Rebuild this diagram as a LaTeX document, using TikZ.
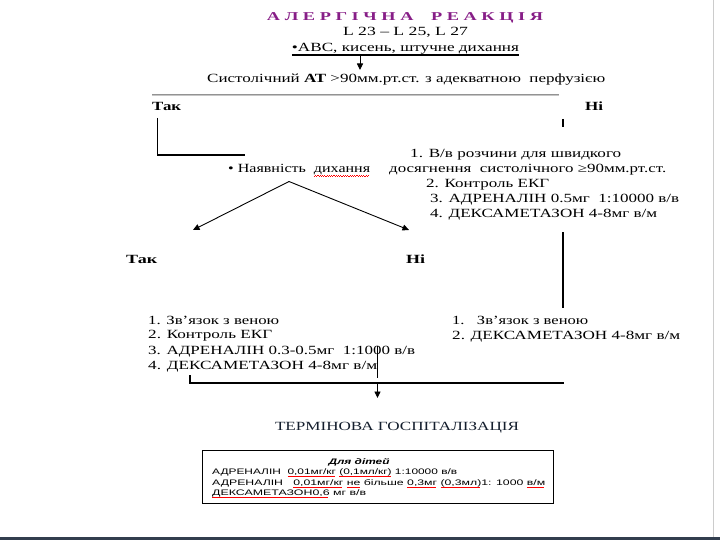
\documentclass[tikz,border=0pt]{standalone}
\usepackage{fontspec}
\usepackage{graphicx}
\setmainfont{Liberation Serif}
\newfontfamily\tms[FakeStretch=1.4]{Liberation Serif}
\newfontfamily\ari[FakeStretch=1.3]{Liberation Sans}
\usetikzlibrary{arrows.meta}
\definecolor{ttl}{RGB}{135,30,135}
\definecolor{dk}{RGB}{20,30,45}
\definecolor{frm}{RGB}{50,62,78}
\newcommand\fw[2]{\resizebox{#1}{\height}{#2}}
\newsavebox\sqbox
\newcommand\sq[1]{\sbox\sqbox{#1}\rlap{\textcolor{red}{\leaders\hbox{\rule[-0.3em]{0.1em}{0.08em}\rule[-0.22em]{0.1em}{0.08em}}\hskip\wd\sqbox}}\usebox\sqbox}
\begin{document}
\begin{tikzpicture}[x=1pt,y=-1pt,
 txt/.style={inner sep=0pt, anchor=base west, font=\tms\fontsize{12.5}{14}\selectfont},
 txtc/.style={txt, anchor=base},
 txtb/.style={txt, font=\tms\bfseries\fontsize{12.5}{14}\selectfont},
 boxt/.style={inner sep=0pt, anchor=base west, font=\ari\fontsize{8}{9}\selectfont},
 ln/.style={line width=0.9pt},
 thk/.style={line width=2.3pt},
 arr/.style={line width=0.9pt, -{Triangle[width=6pt,length=6.5pt]}},
]
\useasboundingbox (0,0) rectangle (720,540);
\fill[white] (0,0) rectangle (720,540);

% header
\node[txtc, font=\tms\bfseries\fontsize{12}{13}\selectfont, text=ttl] (title) at (405,21) {\fw{276pt}{А Л Е Р Г І Ч Н А \quad Р Е А К Ц І Я}};
\node[txtc] (lnum) at (405.5,35.5) {\fw{125pt}{L 23 – L 25, L 27}};
\node[txtc] (abc) at (405.5,51.5) {\fw{227pt}{•АВС, кисень, штучне дихання}};
\draw[line width=1.1pt] ([yshift=-3.5pt]abc.base west) -- ([yshift=-3.5pt]abc.base east);
\node[txt] (sys) at (207,83) {\fw{398pt}{Систолічний \textbf{АТ} >90мм.рт.ст. з адекватною\ \ перфузією}};
\coordinate (a1s) at (360,56.5);
\coordinate (a1e) at (360,70);
\draw[arr] (a1s) -- (a1e);

% gray line
\coordinate (g1) at (152,95);
\coordinate (g2) at (559,95);
\draw[draw=gray!85, double=gray!45, double distance=0.8pt, line width=0.9pt] (g1) -- (g2);

\node[txtb] (tak1) at (152,111) {\fw{29pt}{Так}};
\node[txtb] (ni1) at (585,111) {\fw{18pt}{Ні}};

\coordinate (l1) at (157,118);
\coordinate (l2) at (157,155);
\coordinate (l3) at (245,155);
\draw[ln] (l1) -- (l2);
\draw[line width=2.2pt] (l2) -- (l3);
\coordinate (r1) at (563,119);
\coordinate (r2) at (563,127);
\draw[line width=1.1pt] (r1) -- (r2);

\node[txt] (nay) at (228,173) {\fw{142pt}{\textbullet\ Наявність\ \ \sq{дихання}}};

\node[txt] (p1) at (410,158) {\fw{211pt}{1. В/в розчини для швидкого}};
\node[txt] (p2) at (389,173) {\fw{277pt}{досягнення\ \ систолічного ≥90мм.рт.ст.}};
\node[txt] (p3) at (426,187.5) {\fw{123pt}{2. Контроль ЕКГ}};
\node[txt] (p4) at (430,203) {\fw{249pt}{3. АДРЕНАЛІН 0.5мг\ \ 1:10000 в/в}};
\node[txt] (p5) at (430,218) {\fw{227pt}{4. ДЕКСАМЕТАЗОН 4-8мг в/м}};

\coordinate (ap) at (289,181.5);
\coordinate (tl) at (193,230);
\coordinate (tr) at (409,230);
\draw[arr] (ap) -- (tl);
\draw[arr] (ap) -- (tr);

\node[txtb] (tak2) at (126,263) {\fw{31pt}{Так}};
\node[txtb] (ni2) at (406,263) {\fw{19pt}{Ні}};

\coordinate (v1) at (563,232);
\coordinate (v2) at (563,308);
\draw[line width=1.1pt] (v1) -- (v2);

\node[txt] (q1) at (148,324) {\fw{131pt}{1. Зв’язок з веною}};
\node[txt] (q2) at (148,338) {\fw{124pt}{2. Контроль ЕКГ}};
\node[txt] (q3) at (148,354.5) {\fw{267pt}{3. АДРЕНАЛІН 0.3-0.5мг\ \ 1:1000 в/в}};
\node[txt] (q4) at (148,369) {\fw{229pt}{4. ДЕКСАМЕТАЗОН 4-8мг в/м}};
\node[txt] (s1) at (452,324) {\fw{136pt}{1.\ \ \ Зв’язок з веною}};
\node[txt] (s2) at (452,339) {\fw{228pt}{2. ДЕКСАМЕТАЗОН 4-8мг в/м}};

\coordinate (c1) at (377.5,346);
\coordinate (c2) at (377.5,378);
\draw[line width=0.6pt] (c1) -- (c2);

\coordinate (b0) at (190,375);
\coordinate (b1) at (190,383);
\coordinate (b2) at (564,383);
\draw[thk] (b0) -- (b1) -- (b2);
\coordinate (d1) at (377.5,384);
\coordinate (d2) at (377.5,398);
\draw[arr] (d1) -- (d2);

\node[txtc, text=dk] (term) at (397,430) {\fw{244pt}{ТЕРМІНОВА ГОСПІТАЛІЗАЦІЯ}};

% box
\node[draw, line width=1.3pt, minimum width=351pt, minimum height=53pt, inner sep=0pt, anchor=north west] (box) at (202,450) {};
\node[boxt, anchor=base, font=\ari\bfseries\itshape\fontsize{8}{9}\selectfont] (bt1) at (359,464) {\fw{61pt}{Для дітей}};
\node[boxt] (bt2) at (212,474.5) {\fw{245pt}{АДРЕНАЛІН\ \ \sq{0,01мг/кг} \sq{(0,1мл/кг)} 1:10000 в/в}};
\node[boxt] (bt3) at (212,485.5) {\fw{333pt}{АДРЕНАЛІН\ \ \ \sq{0,01мг/кг} \sq{не} більше \sq{0,3мг} \sq{(0,3мл)}1: 1000 \sq{в/м}}};
\node[boxt] (bt4) at (212,495.5) {\fw{154pt}{\sq{ДЕКСАМЕТАЗОН0,6} мг в/в}};

% frame
\fill[frm] (0,537) rectangle (720,540);
\draw[gray!40, line width=0.8pt] (713,0) -- (713,537);
\end{tikzpicture}
\end{document}
